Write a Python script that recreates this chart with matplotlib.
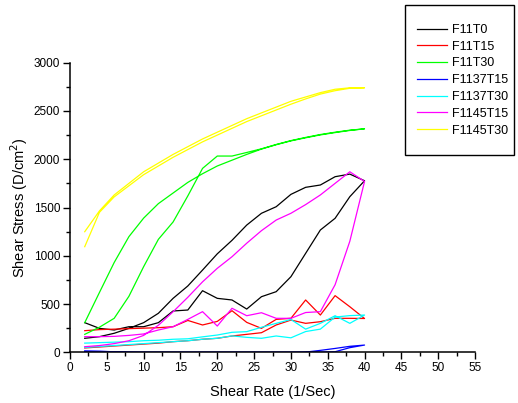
import numpy as np
import matplotlib.pyplot as plt
from matplotlib.patches import Rectangle
from matplotlib.ticker import MultipleLocator

plt.rcParams['font.family'] = ['Liberation Sans', 'DejaVu Sans']

# shear rate steps, swept up to 40 and back down
shear_rate = [2, 4, 6, 8, 10, 12, 14, 16, 18, 20, 22, 24, 26, 28, 30, 32, 34, 36, 38, 40]

# stress on the way up / on the way down, both listed at increasing shear rate
f11t0_up = [145, 162, 197, 248, 307, 404, 559, 687, 852, 1020, 1160, 1318, 1440, 1508, 1636, 1709, 1733, 1819, 1846, 1777]
f11t0_down = [307, 248, 231, 265, 265, 307, 428, 438, 638, 559, 542, 448, 576, 628, 783, 1025, 1267, 1388, 1612, 1777]

f11t15_up = [45, 55, 65, 75, 85, 95, 110, 120, 135, 145, 169, 186, 203, 283, 334, 300, 317, 352, 352, 350]
f11t15_down = [224, 235, 240, 245, 250, 255, 265, 330, 283, 320, 431, 310, 248, 341, 352, 542, 386, 587, 472, 350]

f11t30_up = [307, 620, 930, 1198, 1390, 1540, 1650, 1760, 1850, 1930, 1990, 2050, 2105, 2150, 2190, 2222, 2252, 2276, 2298, 2315]
f11t30_down = [186, 260, 352, 580, 887, 1170, 1350, 1620, 1905, 2033, 2033, 2070, 2108, 2153, 2193, 2226, 2256, 2280, 2301, 2315]

f1137t15_up = [15, 12, 5, 2, 0, 0, 0, 0, 0, 0, 0, 0, 0, 0, 0, 2, 20, 40, 62, 75]
f1137t15_down = [5, 3, 0, 0, 0, 0, 0, 0, 0, 0, 0, 0, 0, 0, 0, 0, 3, 6, 48, 75]

f1137t30_up = [95, 100, 105, 110, 120, 125, 135, 140, 160, 179, 207, 214, 259, 300, 340, 240, 300, 379, 300, 386]
f1137t30_down = [50, 60, 70, 80, 90, 100, 110, 120, 135, 145, 170, 155, 145, 169, 150, 215, 240, 365, 380, 386]

f1145t15_up = [58, 70, 90, 120, 175, 280, 420, 570, 730, 870, 990, 1130, 1260, 1370, 1440, 1530, 1630, 1750, 1870, 1770]
f1145t15_down = [162, 162, 165, 175, 190, 231, 265, 341, 421, 272, 456, 379, 410, 352, 352, 412, 421, 700, 1150, 1770]

f1145t30_up = [1094, 1450, 1610, 1725, 1840, 1930, 2020, 2100, 2180, 2250, 2320, 2390, 2450, 2510, 2570, 2625, 2675, 2710, 2735, 2740]
f1145t30_down = [1249, 1465, 1630, 1750, 1870, 1960, 2050, 2130, 2210, 2280, 2350, 2420, 2480, 2540, 2600, 2645, 2690, 2725, 2740, 2740]

series = [
    ("F11T0", f11t0_up, f11t0_down, "black"),
    ("F11T15", f11t15_up, f11t15_down, "#ff0000"),
    ("F11T30", f11t30_up, f11t30_down, "#00ff00"),
    ("F1137T15", f1137t15_up, f1137t15_down, "#0000ff"),
    ("F1137T30", f1137t30_up, f1137t30_down, "#00ffff"),
    ("F1145T15", f1145t15_up, f1145t15_down, "#ff00ff"),
    ("F1145T30", f1145t30_up, f1145t30_down, "#ffff00"),
]

W, H = 518, 403
fig = plt.figure(figsize=(W / 100, H / 100), dpi=100)
ax = fig.add_axes([70 / W, 1 - 352.3 / H, 405 / W, 289.6 / H])

x_loop = shear_rate + shear_rate[::-1]
for name, up, down, color in series:
    ax.plot(x_loop, up + down[::-1], color=color, lw=0.9, label=name)

ax.set_xlim(0, 55)
ax.set_ylim(0, 3000)
ax.xaxis.set_major_locator(MultipleLocator(5))
ax.xaxis.set_minor_locator(MultipleLocator(2.5))
ax.yaxis.set_major_locator(MultipleLocator(500))
ax.yaxis.set_minor_locator(MultipleLocator(250))
ax.tick_params(which='major', length=5, width=1, labelsize=8.5, direction='out', pad=2)
ax.tick_params(which='minor', length=3, width=1, direction='out')

for side in ('top', 'right'):
    ax.spines[side].set_visible(False)
for side in ('left', 'bottom'):
    ax.spines[side].set_linewidth(1.1)

ax.set_xlabel("Shear Rate (1/Sec)", fontsize=10.5, labelpad=8)
ax.set_ylabel("Shear Stress (D/cm$^2$)", fontsize=10.5, labelpad=3)

# legend box drawn separately so it can sit partly above the axes
fig.add_artist(Rectangle((405 / W, 1 - 155 / H), 109 / W, 150 / H,
                         transform=fig.transFigure, fill=False,
                         edgecolor='black', lw=1))
fig.legend(loc='upper left', bbox_to_anchor=(417 / W, 1 - 24 / H),
           fontsize=9, frameon=False, handlelength=2.4, handletextpad=0.4,
           labelspacing=0.38, borderpad=0, borderaxespad=0)

fig.savefig("out.png", dpi=100)
